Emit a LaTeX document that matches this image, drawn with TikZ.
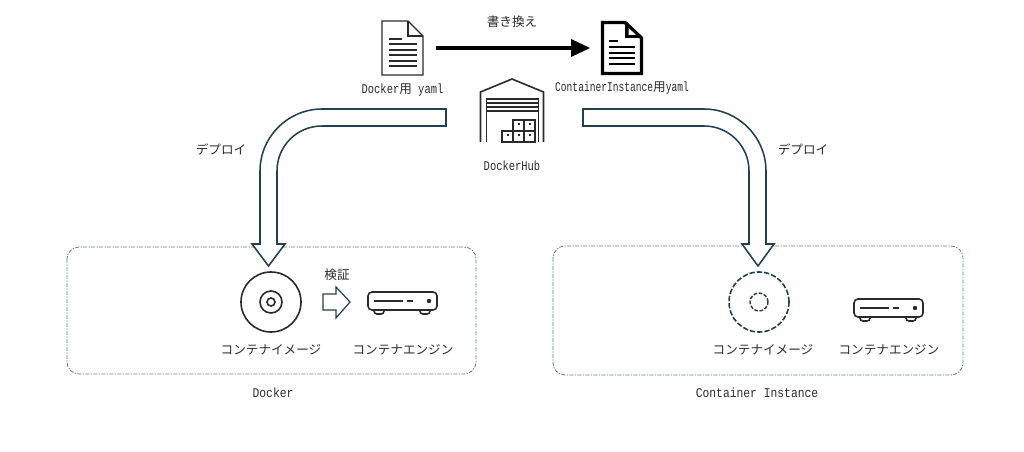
\documentclass[tikz,border=0pt]{standalone}
\usepackage{fontspec}
\setmainfont{Noto Sans CJK JP}
\newfontfamily\monofont[FakeStretch=0.85]{Liberation Mono}
\newfontfamily\monomid[FakeStretch=0.785]{Liberation Mono}
\newfontfamily\monotight[FakeStretch=0.72]{Liberation Mono}
\definecolor{navy}{HTML}{23404F}
\definecolor{ink}{HTML}{2A2A2A}
\definecolor{framegray}{HTML}{5F7F88}
\tikzset{
	engine/.pic={
		\draw [ink, line width=1.2pt, rounded corners=2.2pt, fill=white] (374,308) -- (374,314) -- (384,314) -- (384,308);
		\draw [ink, line width=1.2pt, rounded corners=2.2pt, fill=white] (420,308) -- (420,314) -- (430,314) -- (430,308);
		\draw [ink, line width=1.2pt, rounded corners=3pt, fill=white] (368,292) rectangle (437,310);
		\draw [ink, line width=1.2pt] (374,301) -- (403,301) (407,301) -- (413,301);
		\fill [ink] (429,301) circle (2.2);
	}
}
\begin{document}
\begin{tikzpicture}[x=0.75pt,y=-0.75pt]
	\tikzstyle{every node}+=[inner sep=0pt, text=ink]
	\tikzstyle{jplabel}=[font=\fontsize{9.45}{11}\selectfont]
	\tikzstyle{latlabel}=[font=\fontsize{10}{11}\monofont]
	\tikzstyle{bigarrow}=[draw=navy, line width=1.15pt, fill=white, line join=miter]
	\tikzstyle{frame}=[draw=framegray, line width=0.6pt, dash pattern=on 3pt off 1pt on 1pt off 1pt, rounded corners=9pt]
	\useasboundingbox (0,0) rectangle (1024,452);
	% frames
	\draw [frame] (67,247) rectangle (476,374);
	\draw [frame] (553,246) rectangle (963,375);
	% yaml files
	\node (docA) [minimum width=31pt, minimum height=40.5pt] at (402.5,48) {};
	\draw [ink, line width=0.9pt, line join=miter] (382,21) -- (408,21) -- (423,36) -- (423,75) -- (382,75) -- cycle;
	\draw [ink, line width=0.9pt] (408,21) -- (408,36) -- (423,36);
	\draw [ink, line width=0.9pt] (389,39) -- (402,39);
	\foreach \y in {44,50,55,61,66}
		\draw [ink, line width=0.9pt] (389,\y) -- (417,\y);
	\node (docB) [minimum width=31.5pt, minimum height=40.5pt] at (622,48) {};
	\draw [black, line width=2.6pt, line join=miter] (602.5,22.5) -- (625,22.5) -- (641.5,38) -- (641.5,73.5) -- (602.5,73.5) -- cycle;
	\fill [black] (625,22.5) -- (641.5,38) -- (625,38) -- cycle;
	\fill [white] (628.5,28) -- (636,35) -- (628.5,35) -- cycle;
	\draw [black, line width=1.8pt] (609,41) -- (618,41);
	\foreach \y in {47,53,58,64}
		\draw [black, line width=1.8pt] (609,\y) -- (635,\y);
	\draw [black, line width=2.6pt, shorten <=9.75pt, shorten >=16pt] (docA) -- (docB);
	\fill [black] (571,39) -- (590,48) -- (571,57) -- cycle;
	\node (rewrite) [jplabel] at (512,22) {書き換え};
	\node (docAlabel) [font=\fontsize{10}{11}\monomid] at (402.5,90) {Docker{\fontsize{9.45}{11}\rmfamily 用} yaml};
	\node (docBlabel) [font=\fontsize{10}{11}\monotight] at (622,88) {ContainerInstance{\fontsize{9.45}{11}\rmfamily 用}yaml};
	% warehouse
	\node (hub) [minimum width=48pt, minimum height=47pt] at (512,110.5) {};
	\draw [ink, line width=1.2pt, line join=miter] (480.5,142) -- (480.5,92) -- (512,79) -- (543.5,92) -- (543.5,142);
	\draw [ink, line width=1.2pt, line join=miter] (486.5,142) -- (486.5,99) -- (538.5,99) -- (538.5,142);
	\foreach \y in {103,107,111}
		\draw [ink, line width=0.9pt] (487,\y) -- (538,\y);
	\draw [ink, line width=1pt] (502,131) rectangle (513,142) (513,131) rectangle (524,142) (524,131) rectangle (535,142);
	\draw [ink, line width=1pt] (513,120) rectangle (524,131) (524,120) rectangle (535,131);
	\foreach \x/\y in {507/136, 518/136, 529/136, 518/125, 529/125}
		\fill [ink] (\x,\y) rectangle +(2,-2);
	\node (hublabel) [font=\fontsize{10}{11}\monomid] at (512,166) {DockerHub};
	% deploy arrows
	\draw [bigarrow] (446,109) -- (322,109) .. controls (288,109) and (260,137) .. (260,171) -- (260,244) -- (252,244) -- (268.5,266) -- (285,244) -- (277,244) -- (277,171) .. controls (277,146) and (297,126) .. (322,126) -- (446,126) -- cycle;
	\draw [bigarrow] (583,109) -- (704,109) .. controls (738,109) and (766,137) .. (766,171) -- (766,244) -- (774,244) -- (758,266) -- (742,244) -- (749,244) -- (749,171) .. controls (749,146) and (729,126) .. (704,126) -- (583,126) -- cycle;
	\node (deployA) [jplabel] at (221,149) {デプロイ};
	\node (deployB) [jplabel] at (803,149) {デプロイ};
	% docker side
	\node (imageA) [circle, draw=ink, line width=1.2pt, minimum size=45pt] at (271,302) {};
	\node (imageAmid) [circle, draw=ink, line width=1.2pt, minimum size=16.5pt] at (imageA) {};
	\node (imageAhole) [circle, draw=ink, line width=1.2pt, minimum size=6pt] at (imageA) {};
	\draw [draw=navy, line width=0.9pt, fill=white] (323,294) -- (336,294) -- (336,287) -- (350,302) -- (336,318) -- (336,310) -- (323,310) -- cycle;
	\node (check) [jplabel] at (337,275) {検証};
	\pic {engine};
	\node (imageAlabel) [jplabel] at (271,349.5) {コンテナイメージ};
	\node (engineAlabel) [jplabel] at (403,349.5) {コンテナエンジン};
	\node (dockerlabel) [latlabel] at (273,393) {Docker};
	% container instance side
	\node (imageB) [circle, draw=navy, line width=1.2pt, dash pattern=on 4pt off 1.5pt, minimum size=45pt] at (759,302) {};
	\node (imageBhole) [circle, draw=navy, line width=1.1pt, dash pattern=on 2.8pt off 1.2pt, minimum size=13.5pt] at (imageB) {};
	\pic [xshift=364.5pt, yshift=-5.25pt] {engine};
	\node (imageBlabel) [jplabel] at (763,349.5) {コンテナイメージ};
	\node (engineBlabel) [jplabel] at (889,349.5) {コンテナエンジン};
	\node (cilabel) [latlabel] at (757,393) {Container Instance};
\end{tikzpicture}
\end{document}
